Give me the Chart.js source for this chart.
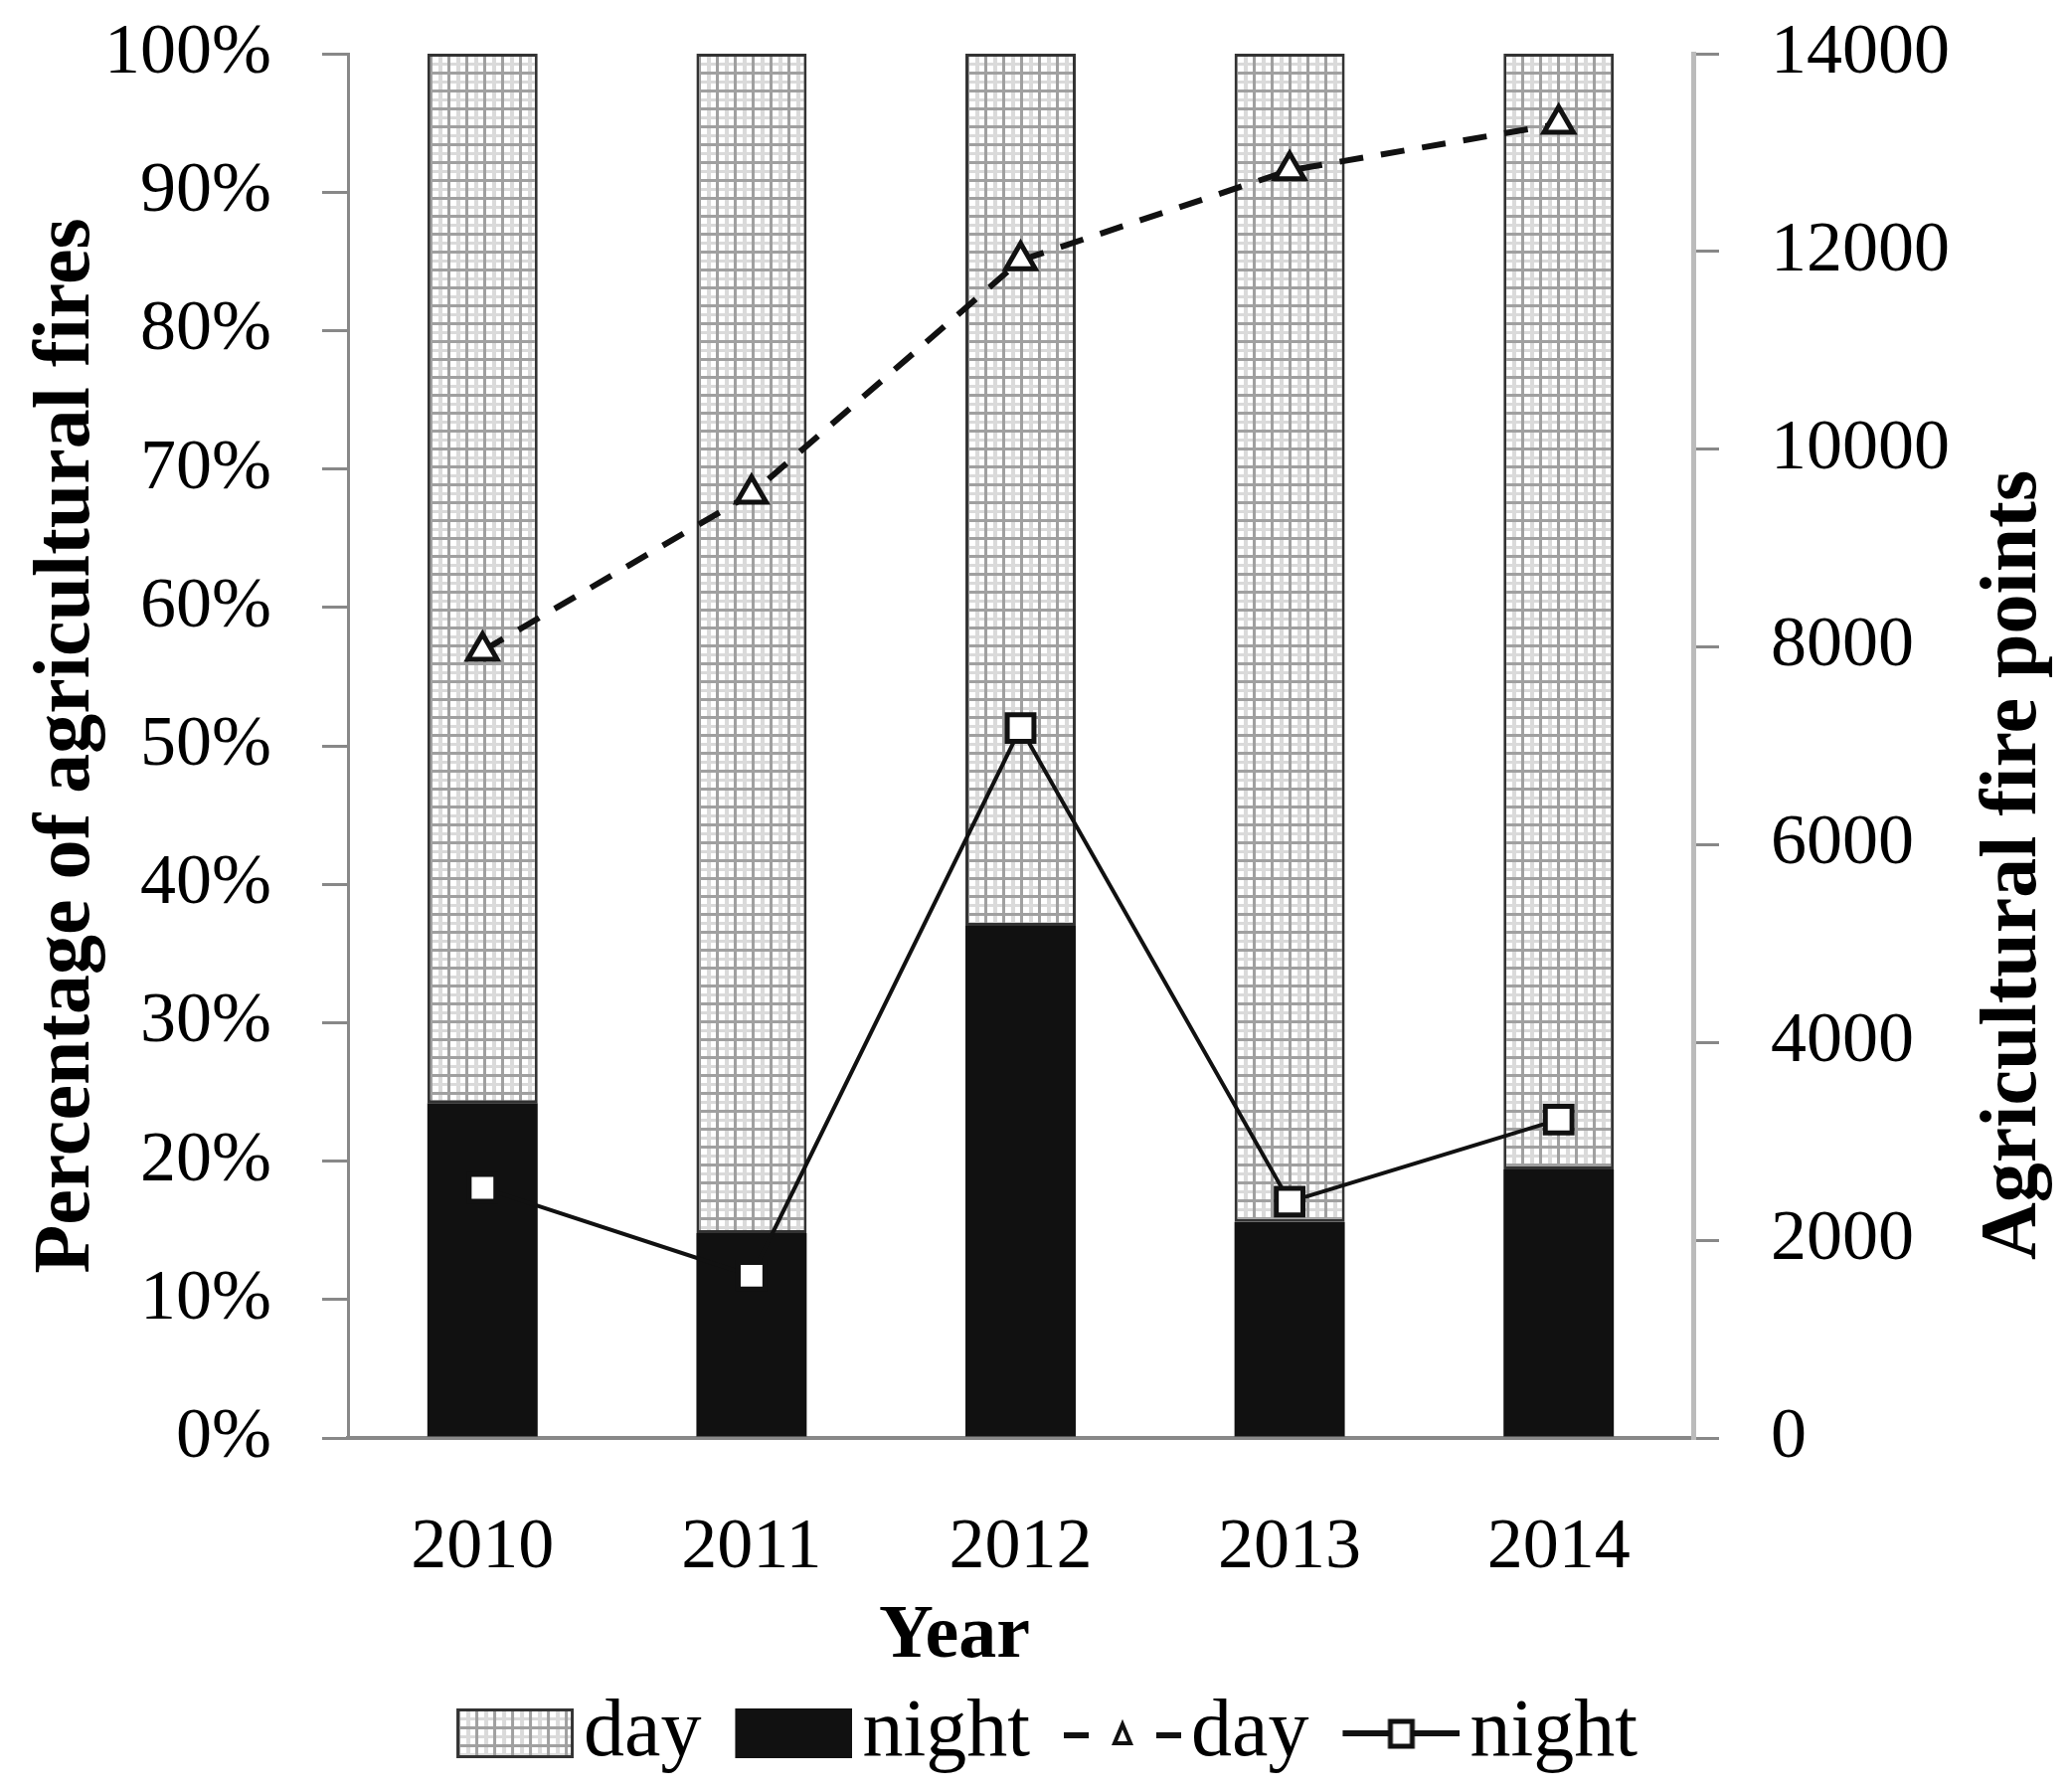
<!DOCTYPE html>
<html>
<head>
<meta charset="utf-8">
<script src="https://cdn.jsdelivr.net/npm/chart.js@4.4.1/dist/chart.umd.min.js"></script>
<style>
    html, body { margin: 0; padding: 0; background: #fff; }
    #wrap { width: 2084px; height: 1800px; position: relative; }
</style>
</head>
<body>
<div id="wrap"><canvas id="fires"></canvas></div>
<script>
// data
let years = ['2010', '2011', '2012', '2013', '2014'];
let nightPct = [24.2, 14.8, 37.0, 15.6, 19.4];
let dayPct = [75.8, 85.2, 63.0, 84.4, 80.6];
let dayPoints = [7960, 9550, 11910, 12820, 13290];
let nightPoints = [2530, 1640, 7180, 2390, 3220];
let legendNames = ['day', 'night', 'day', 'night'];

let FONT = 'Liberation Serif';

// grid tile for the "day" bars
function makePattern() {
    let tile = document.createElement('canvas');
    tile.width = 18;
    tile.height = 18;
    let t = tile.getContext('2d');
    t.fillStyle = '#ffffff';
    t.fillRect(0, 0, 18, 18);
    t.fillStyle = '#dadada';
    t.fillRect(9, 0, 4, 18);
    t.fillRect(0, 9, 18, 3);
    t.fillStyle = '#a0a0a0';
    t.fillRect(0, 0, 3, 18);
    t.fillRect(0, 0, 18, 3);
    return t.createPattern(tile, 'repeat');
}

// legend swatches: 171 wide, the drawing sits in the right 118 px
function swatch(kind, pattern) {
    let c = document.createElement('canvas');
    c.width = 171;
    c.height = 50;
    let g = c.getContext('2d');
    let x0 = 53, w = 118, h = 50;
    if (kind === 'patbar') {
        g.fillStyle = pattern;
        g.fillRect(x0, 0, w, h);
        g.strokeStyle = '#333';
        g.lineWidth = 3;
        g.strokeRect(x0 + 1.5, 1.5, w - 3, h - 3);
    } else if (kind === 'bar') {
        g.fillStyle = '#111';
        g.fillRect(x0, 0, w, h);
    } else if (kind === 'dash') {
        g.strokeStyle = '#111';
        g.lineWidth = 6;
        g.beginPath();
        g.moveTo(x0, 27); g.lineTo(x0 + 25, 27);
        g.moveTo(x0 + 93, 27); g.lineTo(x0 + 118, 27);
        g.stroke();
        g.lineWidth = 4;
        g.fillStyle = '#fff';
        g.beginPath();
        g.moveTo(x0 + 59, 16); g.lineTo(x0 + 67, 35); g.lineTo(x0 + 51, 35); g.closePath();
        g.fill(); g.stroke();
    } else {
        g.strokeStyle = '#111';
        g.lineWidth = 6;
        g.beginPath();
        g.moveTo(x0, 25); g.lineTo(x0 + w, 25);
        g.stroke();
        g.fillStyle = '#fff';
        g.lineWidth = 5;
        g.fillRect(x0 + 48, 13, 22, 25);
        g.strokeRect(x0 + 48, 13, 22, 25);
    }
    return c;
}

// right axis title reads bottom to top (chart.js turns it the other way),
// and "Year" sits left of the plot centre
let extraTitles = {
    id: 'extraTitles',
    afterDraw(chart) {
        let ctx = chart.ctx;
        let s = chart.scales.y1;
        ctx.save();
        ctx.fillStyle = '#000';
        ctx.textAlign = 'center';
        ctx.textBaseline = 'middle';
        ctx.font = 'bold 80px "' + FONT + '"';
        ctx.translate(s.right - 58, chart.chartArea.top + 816);
        ctx.rotate(-Math.PI / 2);
        ctx.fillText('Agricultural fire points', 0, 0);
        ctx.restore();

        ctx.save();
        ctx.fillStyle = '#000';
        ctx.textAlign = 'center';
        ctx.textBaseline = 'middle';
        ctx.font = 'bold 76px "' + FONT + '"';
        ctx.fillText('Year', 960, chart.chartArea.bottom + 200);
        ctx.restore();
    }
};

document.addEventListener('DOMContentLoaded', () => {

    let canvas = document.getElementById('fires');
    let pattern = makePattern();
    let swatches = [swatch('patbar', pattern), swatch('bar'), swatch('dash'), swatch('line')];

    let myChart = new Chart(canvas, {
        type: 'bar',
        data: {
            labels: years,
            datasets: [{
                label: 'night',
                data: nightPct,
                backgroundColor: '#111',
                borderWidth: 0,
                yAxisID: 'y',
                order: 1,
                categoryPercentage: 1,
                barPercentage: 0.41
            }, {
                label: 'day',
                data: dayPct,
                backgroundColor: pattern,
                borderColor: '#333',
                borderWidth: 3,
                borderSkipped: false,
                yAxisID: 'y',
                order: 1,
                categoryPercentage: 1,
                barPercentage: 0.41
            }, {
                type: 'line',
                label: 'day points',
                data: dayPoints,
                yAxisID: 'y1',
                borderColor: '#111',
                borderWidth: 6,
                borderDash: [24, 18],
                pointStyle: 'triangle',
                pointRadius: 17,
                pointBackgroundColor: '#fff',
                pointBorderColor: '#111',
                pointBorderWidth: 5,
                order: 0
            }, {
                type: 'line',
                label: 'night points',
                data: nightPoints,
                yAxisID: 'y1',
                borderColor: '#111',
                borderWidth: 4,
                pointStyle: 'rect',
                pointRadius: 19,
                pointBackgroundColor: '#fff',
                pointBorderColor: '#111',
                pointBorderWidth: 5,
                order: 0
            }]
        },
        options: {
            responsive: true,
            maintainAspectRatio: false,
            devicePixelRatio: 1,
            animation: false,
            layout: { padding: { top: 54, left: 0, right: 0, bottom: 6 } },
            scales: {
                x: {
                    stacked: true,
                    grid: { display: false },
                    border: { color: '#888', width: 4 },
                    ticks: { color: '#000', padding: 60, font: { family: FONT, size: 72 } },
                    afterFit: (scale) => { scale.height = 244; }
                },
                y: {
                    stacked: true,
                    position: 'left',
                    min: 0,
                    max: 100,
                    grid: { drawOnChartArea: false, color: '#888', lineWidth: 3, tickLength: 26 },
                    border: { color: '#888', width: 3 },
                    ticks: {
                        stepSize: 10,
                        color: '#000',
                        padding: 51,
                        font: { family: FONT, size: 72 },
                        callback: (v) => v + '%'
                    },
                    title: {
                        display: true,
                        text: 'Percentage of agricultural fires',
                        color: '#000',
                        padding: { top: 20, bottom: 0 },
                        font: { family: FONT, size: 80, weight: 'bold' }
                    },
                    afterFit: (scale) => {
                        scale.width = 350;
                        scale.paddingTop = 0;
                        scale.paddingBottom = 0;
                    }
                },
                y1: {
                    position: 'right',
                    min: 0,
                    max: 14000,
                    grid: { drawOnChartArea: false, color: '#888', lineWidth: 3, tickLength: 26 },
                    border: { color: '#bbb', width: 5 },
                    ticks: {
                        stepSize: 2000,
                        color: '#000',
                        padding: 52,
                        font: { family: FONT, size: 72 },
                        callback: (v) => String(v)
                    },
                    afterFit: (scale) => {
                        scale.width = 381;
                        scale.paddingTop = 0;
                        scale.paddingBottom = 0;
                    }
                }
            },
            plugins: {
                tooltip: { enabled: false },
                legend: {
                    position: 'bottom',
                    labels: {
                        usePointStyle: true,
                        pointStyleWidth: 109,
                        boxHeight: 50,
                        padding: 12,
                        color: '#000',
                        font: { family: FONT, size: 82 },
                        generateLabels: (chart) => {
                            // legend order: day bar, night bar, day line, night line
                            let idx = [1, 0, 2, 3];
                            return idx.map((d, i) => ({
                                text: legendNames[i],
                                datasetIndex: d,
                                pointStyle: swatches[i],
                                fillStyle: '#fff',
                                strokeStyle: '#fff',
                                lineWidth: 0,
                                fontColor: '#000',
                                hidden: false
                            }));
                        }
                    }
                }
            }
        },
        plugins: [extraTitles]
    });

});
</script>
</body>
</html>
